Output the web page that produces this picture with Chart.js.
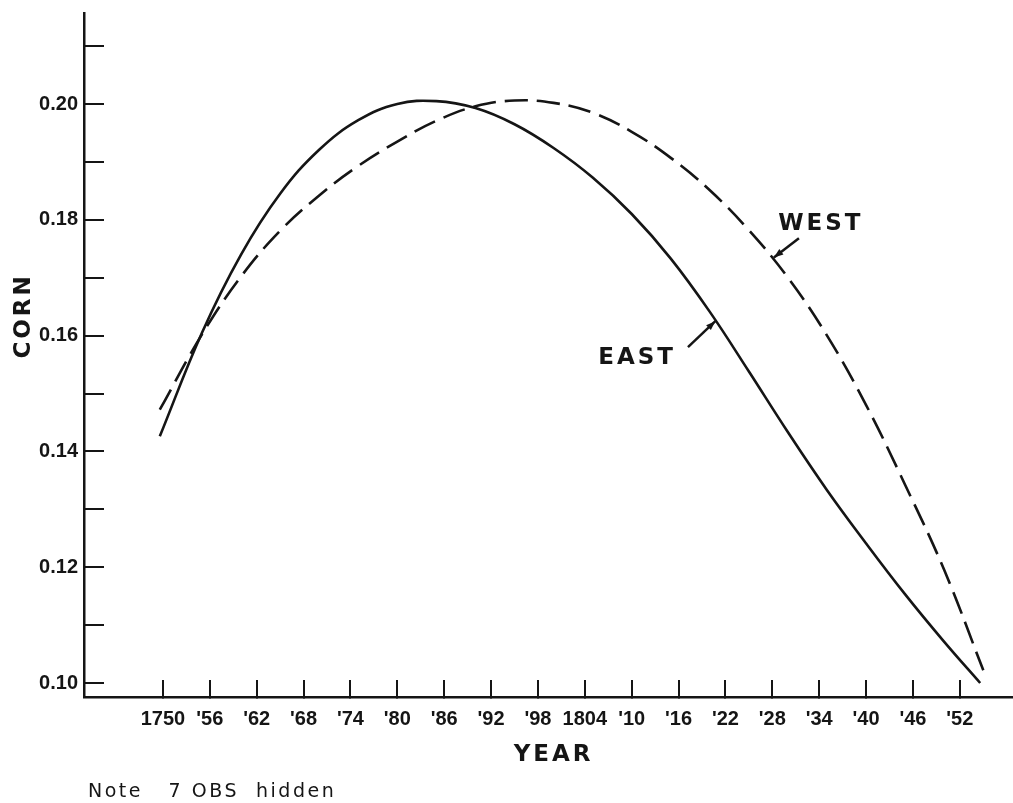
<!DOCTYPE html>
<html>
<head>
<meta charset="utf-8">
<title>Corn: East and West</title>
<script src="https://cdn.jsdelivr.net/npm/chart.js@4.4.0/dist/chart.umd.min.js"></script>
<style>
  html, body { margin: 0; padding: 0; background: #fff; }
</style>
</head>
<body>
<canvas id="cornChart" width="1013" height="803"></canvas>
<script>
// values
const eastYears = [1749.6, 1755, 1760, 1765, 1770, 1775, 1780, 1785, 1790, 1795, 1800,
    1805, 1810, 1815, 1820, 1825, 1830, 1835, 1840, 1845, 1850, 1854.6];
const eastCorn = [0.1426, 0.1605, 0.1740, 0.1845, 0.1921, 0.1972, 0.2000, 0.2005, 0.1993, 0.1965, 0.1924,
    0.1873, 0.1810, 0.1733, 0.1641, 0.1538, 0.1433, 0.1333, 0.1241, 0.1153, 0.1071, 0.1000];

const westYears = [1749.6, 1755, 1760, 1765, 1770, 1775, 1780, 1785, 1790, 1795, 1800,
    1805, 1810, 1815, 1820, 1825, 1830, 1835, 1840, 1845, 1850, 1855];
const westCorn = [0.1472, 0.1602, 0.1702, 0.1781, 0.1842, 0.1893, 0.1935, 0.1971, 0.1996, 0.2006, 0.2002,
    0.1985, 0.1952, 0.1907, 0.1851, 0.1782, 0.1700, 0.1600, 0.1480, 0.1342, 0.1195, 0.1022];

const yearTicks = [1750, 1756, 1762, 1768, 1774, 1780, 1786, 1792, 1798, 1804, 1810, 1816, 1822, 1828, 1834, 1840, 1846, 1852];
const yearLabels = ['1750', "'56", "'62", "'68", "'74", "'80", "'86", "'92", "'98", '1804', "'10", "'16", "'22", "'28", "'34", "'40", "'46", "'52"];
const cornTicks = [0.10, 0.11, 0.12, 0.13, 0.14, 0.15, 0.16, 0.17, 0.18, 0.19, 0.20, 0.21];
const cornLabels = ['0.10', '', '0.12', '', '0.14', '', '0.16', '', '0.18', '', '0.20', ''];

// curve labels: text spot and arrow tail/tip, in data units
const eastTag = { text: 'EAST', x: 1810.7, y: 0.1561, tailX: 1817.2, tailY: 0.1580, tipX: 1820.7, tipY: 0.1625 };
const westTag = { text: 'WEST', x: 1834.2, y: 0.1793, tailX: 1831.4, tailY: 0.1768, tipX: 1828.2, tipY: 0.1735 };

const INK = '#151515';
const tickFont = { family: "'Liberation Sans', Arial, sans-serif", weight: 'bold', size: 20 };
const letterFont = "bold 23px 'DejaVu Sans', sans-serif";

function points(xs, ys) {
    return xs.map(function (x, i) { return { x: x, y: ys[i] }; });
}

function drawArrow(ctx, x1, y1, x2, y2) {
    const ang = Math.atan2(y2 - y1, x2 - x1);
    ctx.beginPath();
    ctx.moveTo(x1, y1);
    ctx.lineTo(x2, y2);
    ctx.stroke();
    ctx.beginPath();
    ctx.moveTo(x2, y2);
    ctx.lineTo(x2 - 10 * Math.cos(ang - 0.35), y2 - 10 * Math.sin(ang - 0.35));
    ctx.lineTo(x2 - 10 * Math.cos(ang + 0.35), y2 - 10 * Math.sin(ang + 0.35));
    ctx.closePath();
    ctx.fill();
}

const textPlugin = {
    id: 'figureText',
    afterDraw: function (chart) {
        const ctx = chart.ctx;
        const x = chart.scales.x;
        const y = chart.scales.y;
        const area = chart.chartArea;

        ctx.save();
        ctx.fillStyle = INK;
        ctx.strokeStyle = INK;
        ctx.lineWidth = 2.5;
        ctx.font = letterFont;
        ctx.letterSpacing = '3px';
        ctx.textBaseline = 'middle';

        [eastTag, westTag].forEach(function (t) {
            ctx.textAlign = 'center';
            ctx.fillText(t.text, x.getPixelForValue(t.x), y.getPixelForValue(t.y));
            drawArrow(ctx, x.getPixelForValue(t.tailX), y.getPixelForValue(t.tailY),
                x.getPixelForValue(t.tipX), y.getPixelForValue(t.tipY));
        });

        // axis titles
        ctx.textAlign = 'center';
        ctx.fillText('YEAR', x.getPixelForValue(1800), area.bottom + 58);

        ctx.save();
        ctx.translate(24, y.getPixelForValue(0.1634));
        ctx.rotate(-Math.PI / 2);
        ctx.fillText('CORN', 0, 0);
        ctx.restore();

        ctx.font = "19px 'DejaVu Sans', sans-serif";
        ctx.letterSpacing = '2.5px';
        ctx.textAlign = 'left';
        ctx.fillText('Note   7 OBS  hidden', 88, area.bottom + 95);
        ctx.restore();
    }
};

document.addEventListener('DOMContentLoaded', function () {
    initCornChart();
});

function initCornChart() {
    const data = {
        datasets: [{
            label: 'EAST',
            data: points(eastYears, eastCorn),
            borderColor: INK,
            borderWidth: 2.6,
            pointRadius: 0,
            tension: 0.4,
            fill: false
        }, {
            label: 'WEST',
            data: points(westYears, westCorn),
            borderColor: INK,
            borderWidth: 2.6,
            borderDash: [23, 9],
            pointRadius: 0,
            tension: 0.4,
            fill: false
        }]
    };

    const options = {
        responsive: false,
        animation: false,
        layout: { padding: { top: 13, left: 0, right: 0, bottom: 0 } },
        plugins: {
            legend: { display: false },
            tooltip: { enabled: false }
        },
        scales: {
            x: {
                type: 'linear',
                min: 1739.9,
                max: 1858.8,
                afterBuildTicks: function (scale) {
                    scale.ticks = yearTicks.map(function (v) { return { value: v }; });
                },
                afterFit: function (scale) {
                    scale.height = 106;
                    scale.paddingLeft = 0;
                    scale.paddingRight = 0;
                },
                grid: { drawOnChartArea: false, tickLength: -17, lineWidth: 2, tickWidth: 2, tickColor: INK },
                border: { display: true, color: INK, width: 2.5 },
                ticks: {
                    autoSkip: false,
                    maxRotation: 0,
                    padding: 27,
                    color: INK,
                    font: tickFont,
                    callback: function (value) { return yearLabels[yearTicks.indexOf(value)]; }
                }
            },
            y: {
                type: 'linear',
                min: 0.09758,
                max: 0.21572,
                afterBuildTicks: function (scale) {
                    scale.ticks = cornTicks.map(function (v) { return { value: v }; });
                },
                afterFit: function (scale) {
                    scale.width = 84;
                    scale.paddingTop = 0;
                    scale.paddingBottom = 0;
                },
                grid: { drawOnChartArea: false, tickLength: -20, lineWidth: 2, tickWidth: 2, tickColor: INK },
                border: { display: true, color: INK, width: 2.5 },
                ticks: {
                    padding: 26,
                    color: INK,
                    font: tickFont,
                    callback: function (value) {
                        const i = cornTicks.findIndex(function (c) { return Math.abs(c - value) < 1e-6; });
                        return i < 0 ? '' : cornLabels[i];
                    }
                }
            }
        }
    };

    const ctx = document.getElementById('cornChart').getContext('2d');
    new Chart(ctx, {
        type: 'line',
        data: data,
        options: options,
        plugins: [textPlugin]
    });
}
</script>
</body>
</html>
